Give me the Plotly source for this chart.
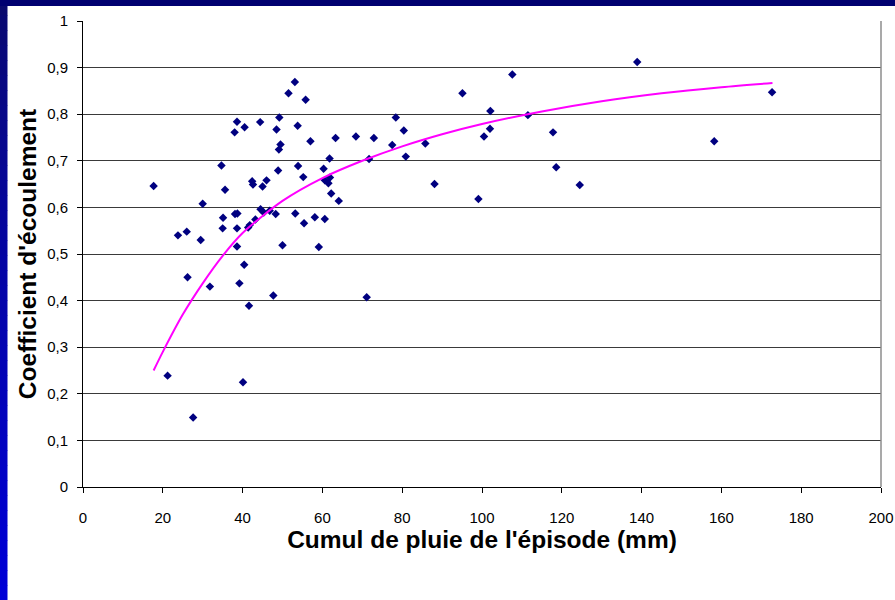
import plotly.graph_objects as go

# Scatter data
rain_mm = [17.7, 21.2, 23.8, 26.0, 26.2, 27.6, 29.5, 30.0, 31.8, 34.7,
           35.0, 35.1, 35.6, 38.0, 38.6, 38.1, 38.7, 38.6, 38.6, 39.2,
           40.1, 40.4, 40.5, 41.6, 41.4, 41.8, 42.4, 42.6, 43.2, 44.4,
           44.5, 45.0, 45.3, 46.0, 46.8, 47.7, 48.3, 48.5, 48.9, 49.2,
           49.5, 49.1, 50.0, 51.5, 53.1, 53.2, 53.8, 53.9, 55.2, 55.4,
           55.8, 57.0, 58.1, 59.1, 60.3, 60.6, 60.6, 61.5, 61.9, 61.8,
           62.2, 63.3, 64.1, 68.4, 71.1, 71.7, 72.9, 77.5, 78.4, 80.4,
           80.9, 85.8, 88.1, 95.1, 99.1, 100.5, 102.0, 102.1, 107.6, 111.5,
           117.8, 118.6, 124.5, 138.9, 158.2, 172.7]
runoff_coef = [0.646, 0.239, 0.540, 0.548, 0.450, 0.149, 0.530, 0.608, 0.430, 0.690,
               0.555, 0.578, 0.638, 0.761, 0.784, 0.586, 0.587, 0.555, 0.516, 0.437,
               0.225, 0.477, 0.772, 0.389, 0.557, 0.562, 0.656, 0.649, 0.574, 0.783,
               0.596, 0.645, 0.589, 0.658, 0.593, 0.411, 0.586, 0.767, 0.679, 0.793,
               0.735, 0.724, 0.519, 0.845, 0.869, 0.587, 0.775, 0.689, 0.665, 0.566,
               0.831, 0.742, 0.579, 0.515, 0.683, 0.575, 0.658, 0.652, 0.664, 0.705,
               0.630, 0.749, 0.614, 0.752, 0.407, 0.704, 0.749, 0.734, 0.793, 0.765,
               0.709, 0.737, 0.650, 0.845, 0.618, 0.752, 0.769, 0.807, 0.885, 0.798,
               0.761, 0.686, 0.648, 0.912, 0.742, 0.847]

# Trend curve samples
trend_x = [17.7, 20, 25, 30, 35, 40, 50, 60, 70, 80, 90, 100, 115, 130, 145, 160, 172.8]
trend_y = [0.250, 0.290, 0.370, 0.437, 0.496, 0.545, 0.614, 0.663, 0.700, 0.731,
           0.757, 0.779, 0.806, 0.828, 0.845, 0.858, 0.867]

y_ticks = [0, 0.1, 0.2, 0.3, 0.4, 0.5, 0.6, 0.7, 0.8, 0.9, 1]
x_ticks = [0, 20, 40, 60, 80, 100, 120, 140, 160, 180, 200]

FONT = "Liberation Sans, Arial, sans-serif"

fig = go.Figure()
fig.add_trace(go.Scatter(
    x=rain_mm, y=runoff_coef, mode="markers",
    marker=dict(symbol="diamond", size=6.5, color="#000080", line=dict(width=0)),
    showlegend=False, cliponaxis=False))
fig.add_trace(go.Scatter(
    x=trend_x, y=trend_y, mode="lines",
    line=dict(color="#FF00FF", width=2, shape="spline", smoothing=0.8),
    showlegend=False))

# Decorative slide frame: top navy band and left gradient band
L, R, T, B = 83, 14, 21, 113
W, H = 895 - L - R, 600 - T - B
def px_x(p):
    return (p - L) / W
def px_y(p):
    return (600 - B - p) / H

shapes = []
n = 40
for i in range(n):
    t = i / (n - 1)
    r = int(0 + 10 * (1 - t))
    g = int(0 + 10 * (1 - t))
    b = int(110 + (215 - 110) * t ** 0.8)
    shapes.append(dict(type="rect", xref="paper", yref="paper",
                       x0=px_x(0), x1=px_x(7.5),
                       y0=px_y(600 * (i + 1) / n + 0.5), y1=px_y(600 * i / n),
                       fillcolor=f"rgb({r},{g},{b})", line=dict(width=0), layer="above"))
shapes.append(dict(type="rect", xref="paper", yref="paper",
                   x0=px_x(0), x1=px_x(895), y0=px_y(6), y1=px_y(0),
                   fillcolor="#000070", line=dict(width=0), layer="above"))
shapes.append(dict(type="line", xref="paper", yref="paper",
                   x0=1, x1=1, y0=0, y1=1, line=dict(color="#8c8c8c", width=1.5)))

fig.update_layout(
    width=895, height=600,
    margin=dict(l=L, r=R, t=T, b=B, autoexpand=False),
    paper_bgcolor="white", plot_bgcolor="white",
    separators=", ",
    font=dict(family=FONT, size=15, color="black"),
    shapes=shapes,
    xaxis=dict(range=[0, 200], tickvals=x_ticks, showgrid=False, zeroline=False,
               showline=True, linecolor="black", linewidth=1,
               ticks="outside", ticklen=5, tickcolor="black",
               ticklabelstandoff=12,
               tickfont=dict(family=FONT, size=15),
               title=dict(text="<b>Cumul de pluie de l'épisode (mm)</b>",
                          font=dict(family=FONT, size=24.5), standoff=4)),
    yaxis=dict(range=[0, 1], tickvals=y_ticks, showgrid=True, gridcolor="#3a3a3a",
               gridwidth=1, zeroline=False,
               showline=True, linecolor="black", linewidth=1,
               ticks="outside", ticklen=5, tickcolor="black",
               ticklabelstandoff=6,
               tickfont=dict(family=FONT, size=15),
               title=dict(text="<b>Coefficient d'écoulement</b>",
                          font=dict(family=FONT, size=24.5), standoff=3)),
)

fig.write_html("out.html",
               config={"displayModeBar": False},
               post_script="document.body.style.margin='0';document.body.style.overflow='hidden';")
